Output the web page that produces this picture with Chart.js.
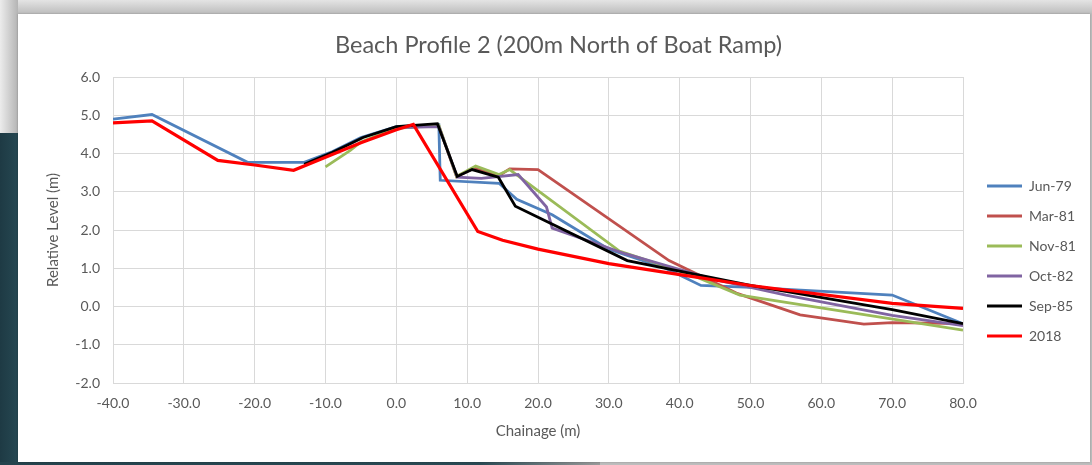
<!DOCTYPE html>
<html>
<head>
<meta charset="utf-8">
<script src="https://cdn.jsdelivr.net/npm/chart.js@4.4.1/dist/chart.umd.min.js"></script>
<style>
  html, body { margin: 0; padding: 0; }
  body { width: 1092px; height: 465px; position: relative; overflow: hidden; background: #bdbdbd; }
  #topBand { position: absolute; left: 0; top: 0; width: 1092px; height: 14px; background: linear-gradient(#e4e4e4, #bcbcbc); }
  #leftTop { position: absolute; left: 0; top: 0; width: 18px; height: 133px; background: linear-gradient(90deg, #ececec, #b4b4b4); }
  #leftDark { position: absolute; left: 0; top: 133px; width: 18px; height: 332px; background: linear-gradient(90deg, #1e3a44, #264852); }
  #bottomDark { position: absolute; left: 0; top: 462px; width: 600px; height: 3px; background: linear-gradient(90deg, #24434d, #2a4a54 80%, #9a9a9a); }
  #panel { position: absolute; left: 18px; top: 14px; width: 1072px; height: 448px; background: #fff; box-shadow: 0 0 2px rgba(0,0,0,0.25); }
</style>
</head>
<body>
<div id="topBand"></div>
<div id="leftTop"></div>
<div id="leftDark"></div>
<div id="bottomDark"></div>
<div id="panel"><canvas id="profileChart" width="1072" height="448"></canvas></div>
<script>
// Chainage (m) / relative level (m) pairs
const jun79 = [[-40, 4.9], [-34.5, 5.02], [-21, 3.77], [-13, 3.77], [-9, 4.05], [-5, 4.42], [0, 4.7], [6, 4.75],
  [6.2, 3.3], [14.5, 3.22], [17, 2.8], [22, 2.4], [30, 1.5], [38, 1.0], [43, 0.55], [50, 0.5], [70, 0.3], [80, -0.45]];
const mar81 = [[0, 4.68], [6, 4.72], [8.5, 3.4], [11, 3.62], [14.5, 3.42], [16, 3.6], [20, 3.58], [38.5, 1.2],
  [48, 0.35], [57, -0.22], [66, -0.46], [70, -0.42], [80, -0.45]];
const nov81 = [[-10, 3.65], [-6.5, 4.08], [-5, 4.3], [0, 4.66], [6, 4.74], [8.5, 3.4], [11.2, 3.67], [14.5, 3.45],
  [16, 3.58], [31.5, 1.45], [42, 0.8], [48.5, 0.3], [80, -0.62]];
const oct82 = [[0, 4.68], [6, 4.7], [8.6, 3.38], [12, 3.35], [17.2, 3.45], [21.2, 2.6], [22, 2.05], [32.3, 1.38],
  [45, 0.7], [55, 0.3], [70, -0.23], [80, -0.5]];
const sep85 = [[-13, 3.72], [-9, 4.03], [-4.7, 4.42], [0, 4.7], [5.8, 4.78], [8.6, 3.4], [10.7, 3.58], [14.4, 3.38],
  [16.8, 2.62], [32.6, 1.2], [50, 0.55], [70, -0.08], [80, -0.45]];
const y2018 = [[-40, 4.8], [-34.5, 4.85], [-25.2, 3.82], [-20, 3.7], [-14.5, 3.56], [-10, 3.9], [-5, 4.28], [0, 4.62],
  [2.4, 4.76], [11.5, 1.96], [15, 1.73], [20, 1.5], [30, 1.12], [40.5, 0.82], [50, 0.55], [70, 0.08], [80, -0.05]];

const seriesNames = ['Jun-79', 'Mar-81', 'Nov-81', 'Oct-82', 'Sep-85', '2018'];
const seriesData = [jun79, mar81, nov81, oct82, sep85, y2018];
const seriesColors = ['#4f81bd', '#c0504d', '#9bbb59', '#8064a2', '#000000', '#ff0000'];

const chainageMin = -40, chainageMax = 80, chainageStep = 10;
const levelMin = -2, levelMax = 6, levelStep = 1;

const gridColor = '#d9d9d9';
const textColor = '#595959';
const FONT = 'Lato, "Open Sans", sans-serif';

// legend sits a bit lower and further right than chart.js puts it
const legendShift = { x: 8, y: 34 };
const legendNudge = {
  id: 'legendNudge',
  afterLayout(chart) {
    const lg = chart.legend;
    if (!lg) return;
    lg.left += legendShift.x; lg.right += legendShift.x;
    lg.top += legendShift.y; lg.bottom += legendShift.y;
  }
};

const datasets = seriesNames.map((name, i) => ({
  label: name,
  data: seriesData[i].map(p => ({ x: p[0], y: p[1] })),
  borderColor: seriesColors[i],
  backgroundColor: seriesColors[i],
  borderWidth: name === '2018' ? 3.2 : 2.8,
  pointRadius: 0,
  tension: 0,
  order: seriesNames.length - i   // later series drawn on top
}));

const ctx = document.getElementById('profileChart').getContext('2d');
new Chart(ctx, {
  type: 'line',
  data: { datasets: datasets },
  plugins: [legendNudge],
  options: {
    responsive: false,
    animation: false,
    layout: { padding: { left: 26, right: 17, top: 0, bottom: 22 } },
    plugins: {
      tooltip: { enabled: false },
      title: {
        display: true,
        text: 'Beach Profile 2 (200m North of Boat Ramp)',
        color: textColor,
        font: { family: FONT, size: 23.5, weight: 'normal' },
        padding: { top: 17, bottom: 17.8 }
      },
      legend: {
        position: 'right',
        maxWidth: 110,
        labels: {
          usePointStyle: true,
          pointStyle: 'line',
          pointStyleWidth: 35,
          padding: 16,
          color: textColor,
          font: { family: FONT, size: 14 },
          sort: (a, b) => a.datasetIndex - b.datasetIndex
        }
      }
    },
    scales: {
      x: {
        type: 'linear',
        min: chainageMin,
        max: chainageMax,
        afterFit(scale) { scale.height = 57; },
        ticks: {
          stepSize: chainageStep,
          padding: 12,
          color: textColor,
          font: { family: FONT, size: 14 },
          maxRotation: 0,
          callback: v => v.toFixed(1)
        },
        grid: { color: gridColor, drawTicks: false },
        border: { color: gridColor },
        title: {
          display: true,
          text: 'Chainage (m)',
          color: textColor,
          font: { family: FONT, size: 15 },
          padding: { top: 0, bottom: 0 }
        }
      },
      y: {
        min: levelMin,
        max: levelMax,
        afterFit(scale) { scale.width = 69; },
        ticks: {
          stepSize: levelStep,
          padding: 13,
          color: textColor,
          font: { family: FONT, size: 14 },
          callback: v => v.toFixed(1)
        },
        grid: { color: gridColor, drawTicks: false },
        border: { color: gridColor },
        title: {
          display: true,
          text: 'Relative Level (m)',
          color: textColor,
          font: { family: FONT, size: 15 },
          padding: { top: 0, bottom: 0 }
        }
      }
    }
  }
});
</script>
</body>
</html>
